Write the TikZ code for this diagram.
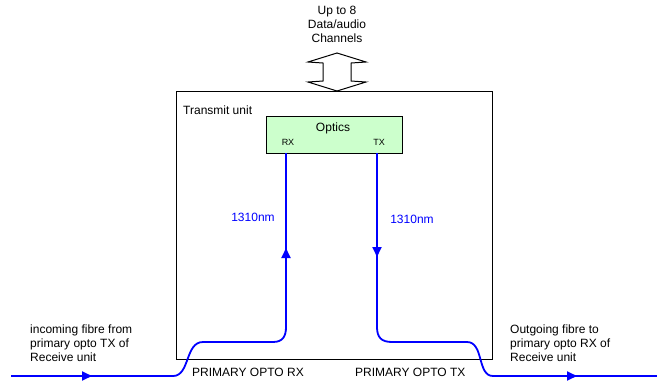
\documentclass[tikz,border=0pt]{standalone}
\usepackage{fontspec}
\setmainfont{Liberation Sans}
\usetikzlibrary{arrows.meta}
\definecolor{fibreblue}{RGB}{0,0,255}
\definecolor{opticsgreen}{RGB}{204,255,204}
\begin{document}
\begin{tikzpicture}[x=1pt,y=-1pt,
  lbl/.style={font=\fontsize{12}{14}\selectfont, inner sep=0pt},
  small/.style={font=\fontsize{9}{10}\selectfont, inner sep=0pt},
  fibre/.style={draw=fibreblue, line width=1.8pt},
  tip/.style={-{Triangle[length=10pt,width=9pt]}},
  unitbox/.style={draw=black, line width=1pt, minimum width=316pt, minimum height=268pt, inner sep=0pt},
  opticsbox/.style={draw=black, line width=1pt, fill=opticsgreen, minimum width=136pt, minimum height=37pt, inner sep=0pt},
  bigarrow/.style={draw=black, line width=1pt, fill=white}]
\useasboundingbox (0,0) rectangle (657,381);

% Transmit unit box
\node[unitbox] (unit) at (334,225) {};
\node[lbl, anchor=west] (unitlbl) at (183,110.5) {Transmit unit};

% Optics
\node[opticsbox] (optics) at (334,134.5) {};
\node[lbl] (opticslbl) at (333,128) {Optics};
\node[small] (rxlbl) at (288,142.5) {RX};
\node[small] (txlbl) at (379,142.5) {TX};

% Channels text and double arrow
\node[lbl, align=center] (chan) at (337,24) {Up to 8\\Data/audio\\Channels};
\path[bigarrow] (337,53) -- (308,62) -- (323,63) -- (323,81) -- (308,82) -- (337,91)
  -- (366,82) -- (351,81) -- (351,63) -- (366,62) -- cycle;

% coordinates
\coordinate (rxpt) at (286,153);
\coordinate (txpt) at (377,153);
\coordinate (rxarr) at (286,248);
\coordinate (txarr) at (377,257);
\coordinate (inL) at (11,376);
\coordinate (inArr) at (92,376);
\coordinate (outR) at (657,376);
\coordinate (outArr) at (577,376);

% incoming fibre
\draw[fibre] (inL) -- (173,376) .. controls (190,376) and (185,342) .. (203,342)
  -- (273,342) .. controls (283,342) and (286,336) .. (286,327) -- (rxpt);
\draw[fibre, tip] (80,376) -- (inArr);
\draw[fibre, tip] (286,260) -- (rxarr);

% outgoing fibre
\draw[fibre] (txpt) -- (377,327) .. controls (377,337) and (381,342) .. (392,342)
  -- (467,342) .. controls (484,342) and (477,376) .. (493,376) -- (outR);
\draw[fibre, tip] (377,245) -- (txarr);
\draw[fibre, tip] (565,376) -- (outArr);

% wavelength labels
\node[lbl, text=fibreblue] (wl1) at (253,217) {1310nm};
\node[lbl, text=fibreblue] (wl2) at (412,219) {1310nm};

% side texts
\node[lbl, align=left, anchor=north west] (inText) at (30,325) {incoming fibre from\\primary opto TX of\\Receive unit};
\node[lbl, align=left, anchor=north west] (outText) at (510,325) {Outgoing fibre to\\primary opto RX of\\Receive unit};

% port labels
\node[lbl, anchor=west] (prx) at (192,372) {PRIMARY OPTO RX};
\node[lbl, anchor=west] (ptx) at (355,372) {PRIMARY OPTO TX};
\end{tikzpicture}
\end{document}
